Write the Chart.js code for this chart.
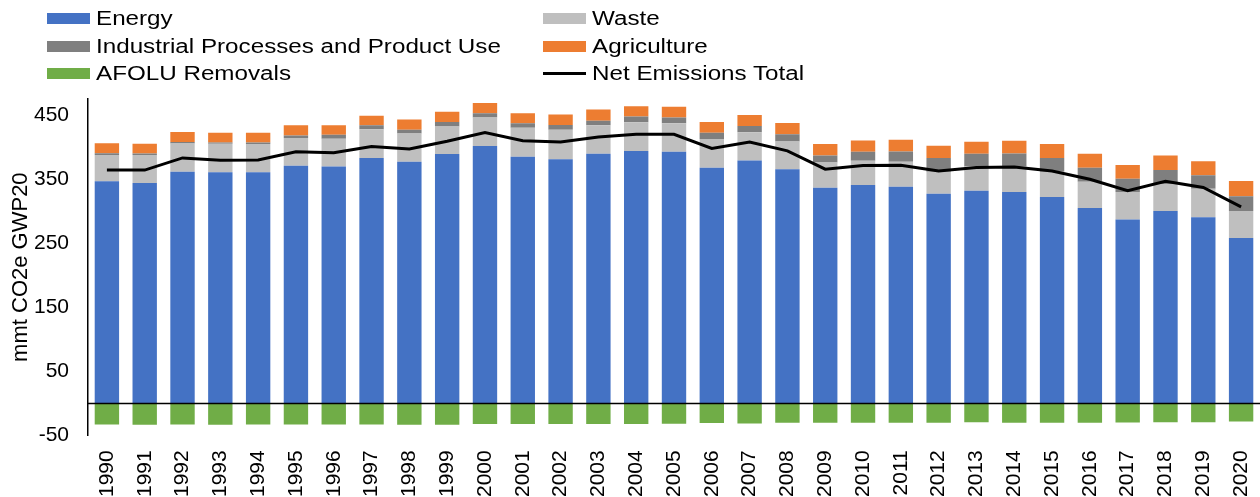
<!DOCTYPE html>
<html>
<head>
<meta charset="utf-8">
<script src="https://cdn.jsdelivr.net/npm/chart.js@4.4.1/dist/chart.umd.min.js"></script>
<style>
  html, body { margin: 0; padding: 0; background: #fff; }
  #wrap { position: relative; width: 1260px; height: 497px; }
  #legend { position: absolute; left: 0; top: 0; font-family: "Liberation Sans", Arial, sans-serif; font-size: 20px; color: #000; }
  .item { position: absolute; height: 26px; line-height: 26px; white-space: nowrap; }
  .swatch { position: absolute; left: 0; top: 8px; width: 43px; height: 11px; }
  .swatch.line { top: 12px; height: 3px; }
  .item .t { position: absolute; left: 49px; top: 0; transform: scaleX(1.21); transform-origin: left center; }
</style>
</head>
<body>
<div id="wrap">
  <canvas id="chart" width="1260" height="497"></canvas>
  <div id="legend"></div>
</div>
<script>
// Data (mmt CO2e GWP20)
const years = ['1990','1991','1992','1993','1994','1995','1996','1997','1998','1999',
  '2000','2001','2002','2003','2004','2005','2006','2007','2008','2009',
  '2010','2011','2012','2013','2014','2015','2016','2017','2018','2019','2020'];

const energy = [346.5, 344, 361.6, 360.7, 360.7, 370.6, 369.5, 383, 377, 389,
  401.5, 384.7, 381, 389.5, 394, 392.6, 367.5, 379, 365.4, 336.5,
  340.7, 338, 327, 331.8, 330, 321.9, 305, 286.8, 300.3, 290.4, 257.9];
const waste = [41, 43.4, 44, 44.3, 44, 43.4, 43.5, 44.7, 44, 43,
  44.5, 45.3, 46, 44.5, 44.7, 44.4, 45, 44, 43.4, 39.3,
  37.8, 39, 34.6, 37.7, 39.5, 39.7, 41, 42.9, 42, 44.6, 42.4];
const ippu = [3, 2.6, 2.4, 2, 2.3, 4, 6, 6.3, 6, 7,
  6.8, 7, 7.6, 7, 8.9, 9, 10, 10, 11, 11,
  14.1, 16, 21.4, 20, 20.5, 21.4, 21.5, 20.9, 21.7, 21, 22.7];
const agriculture = [15.5, 15, 15.6, 15.5, 15.5, 16, 15, 14.7, 16, 16,
  15.8, 15.8, 16.2, 17.6, 16.2, 16.9, 16.5, 17, 17.9, 17.9,
  17.8, 18.5, 19, 18.8, 20, 21.7, 22, 21.4, 22.8, 22, 24];
const afolu = [-33, -33.5, -33, -33.5, -33, -33, -33, -33, -33.5, -33.5,
  -32.5, -32.5, -32.5, -32.5, -32.5, -32, -31, -31.5, -30.5, -30.5,
  -30.5, -30.5, -30.5, -29.5, -30.5, -30.5, -30.5, -30, -29.5, -29.5, -28.5];
const netTotal = [364, 364, 383, 379.5, 379.7, 392.6, 391, 401, 397, 409,
  422.5, 410, 408, 415.7, 420, 420, 397.8, 408, 394, 365.4,
  371, 371.5, 362.7, 368, 369, 362.7, 349.7, 331.8, 346.5, 337, 306.6];

const yTicks = [-50, 50, 150, 250, 350, 450];

const FONT = '"Liberation Sans", Arial, sans-serif';

// horizontal line at zero across the plot
const zeroLine = {
  id: 'zeroLine',
  afterDatasetsDraw(chart) {
    const { ctx, chartArea, scales: { y } } = chart;
    const py = Math.round(y.getPixelForValue(0)) + 0.5;
    ctx.save();
    ctx.strokeStyle = '#000';
    ctx.lineWidth = 1.5;
    ctx.beginPath();
    ctx.moveTo(chartArea.left, py);
    ctx.lineTo(chartArea.right, py);
    ctx.stroke();
    ctx.restore();
  }
};

const bar = (label, data, color) => ({
  type: 'bar',
  label,
  data,
  backgroundColor: color,
  stack: 'sectors',
  order: 1,
  barPercentage: 0.645,
  categoryPercentage: 1
});

const chart = new Chart(document.getElementById('chart').getContext('2d'), {
  data: {
    labels: years,
    datasets: [
      bar('Energy', energy, '#4472C4'),
      bar('Waste', waste, '#BFBFBF'),
      bar('Industrial Processes and Product Use', ippu, '#7F7F7F'),
      bar('Agriculture', agriculture, '#ED7D31'),
      bar('AFOLU Removals', afolu, '#70AD47'),
      {
        type: 'line',
        label: 'Net Emissions Total',
        data: netTotal,
        borderColor: '#000',
        borderWidth: 3,
        pointRadius: 0,
        tension: 0,
        stack: 'net',
        order: 0
      }
    ]
  },
  options: {
    responsive: false,
    animation: false,
    layout: { padding: { top: 99, left: 0, right: 0, bottom: -15 } },
    plugins: {
      legend: { display: false },
      tooltip: { enabled: false }
    },
    scales: {
      x: {
        stacked: true,
        grid: { display: false, drawTicks: false },
        border: { display: false },
        afterFit: (axis) => { axis.paddingRight = 0; axis.paddingLeft = 0; },
        ticks: {
          color: '#000',
          font: { family: FONT, size: 21 },
          minRotation: 90,
          maxRotation: 90,
          autoSkip: false,
          padding: 15
        }
      },
      y: {
        stacked: true,
        min: -50,
        max: 475,
        afterBuildTicks: (axis) => {
          axis.ticks = yTicks.map(v => ({ value: v }));
        },
        afterFit: (axis) => { axis.width = 88; },
        grid: { color: 'transparent', drawTicks: false },
        border: { display: true, color: '#000', width: 1.5 },
        ticks: {
          color: '#000',
          font: { family: FONT, size: 21 },
          padding: 19
        },
        title: {
          display: true,
          text: 'mmt CO2e GWP20',
          color: '#000',
          font: { family: FONT, size: 22 },
          padding: { top: 8, bottom: 0 }
        }
      }
    }
  },
  plugins: [zeroLine]
});

// two-column legend laid out like the original
const legendSlots = [
  [0, 0], [1, 0], [0, 1], [1, 1], [0, 2], [1, 2]
];
const colX = [47, 543];
const rowY = [5, 33, 60];
const legendEl = document.getElementById('legend');
chart.data.datasets.forEach((ds, i) => {
  const [c, r] = legendSlots[i];
  const item = document.createElement('div');
  item.className = 'item';
  item.style.left = colX[c] + 'px';
  item.style.top = rowY[r] + 'px';
  const sw = document.createElement('div');
  sw.className = 'swatch' + (ds.type === 'line' ? ' line' : '');
  sw.style.background = ds.type === 'line' ? ds.borderColor : ds.backgroundColor;
  const t = document.createElement('span');
  t.className = 't';
  t.textContent = ds.label;
  item.appendChild(sw);
  item.appendChild(t);
  legendEl.appendChild(item);
});
</script>
</body>
</html>
